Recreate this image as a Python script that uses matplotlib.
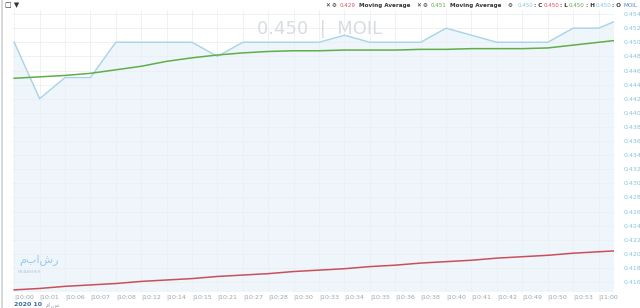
import matplotlib.pyplot as plt
from matplotlib.lines import Line2D

times = ["10:00", "10:01", "10:06", "10:07", "10:08", "10:12", "10:14", "10:15",
         "10:21", "10:27", "10:28", "10:30", "10:33", "10:34", "10:35", "10:36",
         "10:38", "10:40", "10:41", "10:42", "10:49", "10:50", "10:53", "11:00", ""]
price = [0.450, 0.442, 0.445, 0.445, 0.450, 0.450, 0.450, 0.450,
         0.448, 0.450, 0.450, 0.450, 0.450, 0.451, 0.450, 0.450,
         0.450, 0.452, 0.451, 0.450, 0.450, 0.450, 0.452, 0.452, 0.4535]
ma_short = [0.4449, 0.4451, 0.4453, 0.4456, 0.4461, 0.4466, 0.4473, 0.4478,
            0.4482, 0.4485, 0.4487, 0.4488, 0.4488, 0.4489, 0.4489, 0.4489,
            0.4490, 0.4490, 0.4491, 0.4491, 0.4491, 0.4492, 0.4496, 0.4500, 0.4504]
ma_long = [0.4149, 0.4151, 0.4154, 0.4156, 0.4158, 0.4161, 0.4163, 0.4165,
           0.4168, 0.4170, 0.4172, 0.4175, 0.4177, 0.4179, 0.4182, 0.4184,
           0.4187, 0.4189, 0.4191, 0.4194, 0.4196, 0.4198, 0.4201, 0.4203, 0.4205]
y_ticks = [0.416, 0.418, 0.420, 0.422, 0.424, 0.426, 0.428, 0.430, 0.432,
           0.434, 0.436, 0.438, 0.440, 0.442, 0.444, 0.446, 0.448, 0.450,
           0.452, 0.454]

fig = plt.figure(figsize=(6.4, 3.08), dpi=100)
ax = fig.add_axes([0.019, 0.052, 0.94, 0.916])
x = list(range(len(price)))

ax.fill_between(x, price, 0.40, color="#eef6fb", zorder=1)
ax.plot(x, price, color="#a9d4e8", linewidth=1.0, zorder=3)
ax.plot(x, ma_short, color="#5fae4a", linewidth=1.1, zorder=4)
ax.plot(x, ma_long, color="#c9505a", linewidth=1.1, zorder=4)

ax.set_xlim(-0.08, 23.6)
ax.set_ylim(0.4146, 0.4546)
ax.set_xticks(x[:-1])
ax.set_xticklabels(["|" + t for t in times[:-1]], fontsize=4.5, color="#9aa4ad", ha="left")
ax.set_yticks(y_ticks)
ax.set_yticklabels([f"{v:.3f}" for v in y_ticks], fontsize=4.5, color="#8cc3dd")
ax.yaxis.tick_right()
ax.tick_params(length=0, pad=2)
ax.tick_params(axis="y", pad=7)
ax.grid(True, color="#eceff2", linewidth=0.6, zorder=0)
for s in ax.spines.values():
    s.set_visible(False)

# big centered title
fig.text(0.5, 0.905, "0.450  |  MOIL", fontsize=13, color="#d9dde0", ha="center", va="center")

# top-left icons
fig.text(0.008, 0.982, "□ ▼", fontsize=5, color="#333333", va="center")

# legend / header row, laid out by measured width and right-aligned
items = [
    ("✕", "#222222", "normal", 2), ("⚙", "#222222", "normal", 3),
    ("0.429", "#e0505a", "normal", 3), ("Moving Average", "#333333", "bold", 6),
    ("✕", "#222222", "normal", 2), ("⚙", "#222222", "normal", 3),
    ("0.451", "#5fae4a", "normal", 3), ("Moving Average", "#333333", "bold", 6),
    ("⚙", "#222222", "normal", 5),
    ("0.450", "#8cc3dd", "normal", 1), (": C", "#333333", "bold", 1),
    ("0.450", "#e0505a", "normal", 1), (": L", "#333333", "bold", 1),
    ("0.450", "#5fae4a", "normal", 1), (": H", "#333333", "bold", 1),
    ("0.450", "#8cc3dd", "normal", 1), (": O", "#333333", "bold", 2),
    ("MOIL", "#4a8fc0", "normal", 0),
]
renderer = fig.canvas.get_renderer()
texts = []
total = 0.0
for txt, col, w, gap in items:
    t = fig.text(0, 0.982, txt, fontsize=4.1, color=col, fontweight=w, va="center")
    wdt = t.get_window_extent(renderer).width
    texts.append((t, wdt, gap))
    total += wdt + gap
xpx = 637.0 - total
for t, wdt, gap in texts:
    t.set_x(xpx / 640)
    xpx += wdt + gap

# date under axis
fig.text(0.022, 0.012, "2020 10", fontsize=4.5, color="#3b6ea5", fontweight="bold", va="center")
fig.text(0.072, 0.012, "مارس", fontsize=4, color="#9aa4ad", va="center")

# watermark
fig.text(0.030, 0.155, "مباشر", fontsize=8, color="#9cc6e6", va="center")
fig.text(0.028, 0.118, "MUBASHER", fontsize=3, color="#b5c7d6", va="center")

# left border line
fig.add_artist(Line2D([0.003, 0.003], [0.0, 1.0], color="#cfd3d6", linewidth=1.2))

fig.savefig("out.png", dpi=100)
